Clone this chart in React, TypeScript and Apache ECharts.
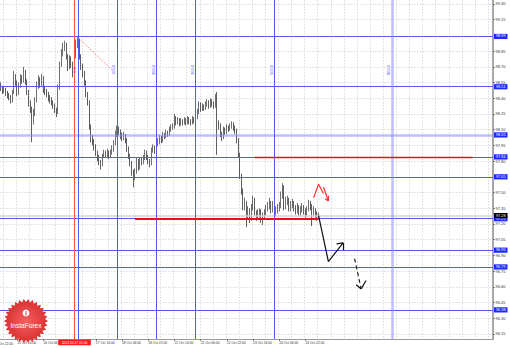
import React, { useEffect, useRef } from "react";
import * as echarts from "echarts";

const FONT = "Liberation Sans";

const firstOpen = 98.52;
const closes = [
  98.50, 98.47, 98.48, 98.45, 98.43, 98.41, 98.38, 98.45, 98.60, 98.55,
  98.45, 98.52, 98.60, 98.57, 98.66, 98.56, 98.46, 98.35, 98.30, 98.20,
  98.25, 98.38, 98.52, 98.58, 98.54, 98.59, 98.48, 98.46, 98.44, 98.40,
  98.38, 98.36, 98.33, 98.29, 98.26, 98.50, 98.72, 98.84, 98.89, 98.92,
  98.80, 98.70, 98.78, 98.73, 98.64, 98.80, 98.93, 98.96, 98.80, 98.70,
  98.64, 98.55, 98.44, 98.36, 98.12, 98.02, 97.99, 97.94, 97.88, 97.83,
  97.79, 97.76, 97.85, 97.88, 97.86, 97.89, 97.85, 97.88, 97.91, 97.97,
  98.06, 98.11, 98.08, 98.04, 98.02, 98.05, 98.00, 97.92, 97.85, 97.78,
  97.70, 97.64, 97.70, 97.80, 97.74, 97.80, 97.79, 97.83, 97.88, 97.84,
  97.80, 97.78, 97.90, 97.93, 97.90, 97.97, 97.99, 98.02, 98.00, 98.05,
  98.04, 98.07, 98.06, 98.10, 98.12, 98.13, 98.21, 98.17, 98.19, 98.16,
  98.18, 98.17, 98.19, 98.17, 98.20, 98.18, 98.17, 98.20, 98.19, 98.22,
  98.27, 98.34, 98.30, 98.32, 98.31, 98.34, 98.36, 98.33, 98.37, 98.35,
  98.33, 98.40, 98.16, 98.14, 98.06, 98.03, 98.10, 98.08, 98.12, 98.11,
  98.13, 98.15, 98.12, 98.09, 98.00, 97.86, 97.66, 97.52, 97.37, 97.40,
  97.28, 97.33, 97.25, 97.36, 97.44, 97.31, 97.27, 97.30, 97.32, 97.25,
  97.27, 97.31, 97.35, 97.37, 97.40, 97.34, 97.39, 97.31, 97.33, 97.35,
  97.37, 97.48, 97.55, 97.37, 97.42, 97.43, 97.35, 97.38, 97.40, 97.36,
  97.33, 97.36, 97.31, 97.34, 97.36, 97.33, 97.30, 97.34, 97.39, 97.37,
  97.32, 97.33, 97.30, 97.27, 97.28,
];
const highs = [
  98.55, 98.52, 98.51, 98.50, 98.47, 98.45, 98.43, 98.48, 98.66, 98.63,
  98.57, 98.55, 98.63, 98.62, 98.70, 98.67, 98.58, 98.48, 98.38, 98.32,
  98.30, 98.41, 98.56, 98.62, 98.60, 98.63, 98.61, 98.52, 98.49, 98.46,
  98.43, 98.41, 98.38, 98.35, 98.31, 98.53, 98.75, 98.87, 98.93, 98.95,
  98.93, 98.82, 98.81, 98.80, 98.75, 98.83, 98.96, 98.99, 98.97, 98.82,
  98.73, 98.66, 98.57, 98.46, 98.38, 98.15, 98.05, 98.01, 97.96, 97.90,
  97.86, 97.81, 97.87, 97.91, 97.90, 97.92, 97.90, 97.91, 97.95, 98.00,
  98.09, 98.14, 98.13, 98.10, 98.07, 98.08, 98.06, 98.02, 97.94, 97.87,
  97.80, 97.72, 97.73, 97.83, 97.82, 97.83, 97.83, 97.86, 97.91, 97.90,
  97.86, 97.82, 97.93, 97.96, 97.95, 98.00, 98.02, 98.05, 98.04, 98.08,
  98.07, 98.10, 98.09, 98.13, 98.15, 98.16, 98.25, 98.23, 98.22, 98.21,
  98.21, 98.20, 98.22, 98.21, 98.23, 98.22, 98.20, 98.23, 98.22, 98.25,
  98.30, 98.37, 98.36, 98.35, 98.34, 98.37, 98.39, 98.38, 98.40, 98.39,
  98.37, 98.44, 98.46, 98.19, 98.16, 98.08, 98.13, 98.12, 98.15, 98.14,
  98.16, 98.18, 98.17, 98.14, 98.11, 98.02, 97.88, 97.68, 97.54, 97.45,
  97.42, 97.37, 97.35, 97.39, 97.47, 97.45, 97.33, 97.34, 97.35, 97.34,
  97.31, 97.34, 97.38, 97.41, 97.45, 97.42, 97.42, 97.41, 97.37, 97.39,
  97.41, 97.51, 97.59, 97.57, 97.46, 97.47, 97.45, 97.42, 97.44, 97.42,
  97.38, 97.40, 97.38, 97.37, 97.40, 97.38, 97.35, 97.37, 97.43, 97.42,
  97.39, 97.37, 97.35, 97.32, 97.31,
];
const lows = [
  98.47, 98.44, 98.45, 98.42, 98.40, 98.38, 98.35, 98.36, 98.44, 98.52,
  98.42, 98.43, 98.50, 98.54, 98.55, 98.53, 98.43, 98.32, 98.26, 97.98,
  98.15, 98.23, 98.36, 98.49, 98.50, 98.52, 98.45, 98.43, 98.41, 98.37,
  98.35, 98.33, 98.30, 98.26, 98.22, 98.25, 98.48, 98.70, 98.80, 98.85,
  98.77, 98.66, 98.68, 98.69, 98.60, 98.62, 98.78, 98.88, 98.77, 98.67,
  98.60, 98.52, 98.41, 98.33, 98.10, 97.98, 97.95, 97.90, 97.85, 97.80,
  97.76, 97.72, 97.75, 97.83, 97.83, 97.84, 97.82, 97.83, 97.86, 97.89,
  97.95, 98.03, 98.05, 98.01, 97.99, 98.00, 97.97, 97.89, 97.82, 97.75,
  97.66, 97.55, 97.62, 97.68, 97.71, 97.72, 97.76, 97.77, 97.81, 97.81,
  97.77, 97.74, 97.76, 97.88, 97.87, 97.88, 97.94, 97.96, 97.97, 97.98,
  98.01, 98.02, 98.03, 98.04, 98.08, 98.10, 98.11, 98.14, 98.15, 98.13,
  98.14, 98.14, 98.15, 98.14, 98.15, 98.15, 98.14, 98.15, 98.16, 98.17,
  98.20, 98.25, 98.27, 98.28, 98.28, 98.29, 98.32, 98.30, 98.31, 98.32,
  98.30, 98.31, 97.86, 98.10, 98.03, 97.99, 98.01, 98.05, 98.06, 98.08,
  98.09, 98.11, 98.09, 98.06, 97.97, 97.83, 97.63, 97.48, 97.33, 97.33,
  97.17, 97.25, 97.21, 97.23, 97.33, 97.28, 97.23, 97.24, 97.26, 97.21,
  97.19, 97.24, 97.28, 97.32, 97.34, 97.30, 97.31, 97.27, 97.27, 97.30,
  97.32, 97.35, 97.44, 97.33, 97.34, 97.38, 97.32, 97.32, 97.35, 97.32,
  97.29, 97.30, 97.27, 97.28, 97.31, 97.29, 97.26, 97.27, 97.32, 97.33,
  97.18, 97.28, 97.26, 97.23, 97.24,
];

const slotCount = 301;
const yMin = 96.102;
const yMax = 99.338;
// 99.00 and 97.65 sit under the level boxes in the reference and are not visible
const yTicks = [
  96.15, 96.3, 96.45, 96.6, 96.75, 96.9, 97.05, 97.2, 97.35, 97.5,
  97.8, 97.95, 98.1, 98.25, 98.4, 98.55, 98.7, 98.85, 99.15, 99.3,
];
const timeTickIndex = [10, 26, 58, 74, 90, 106, 122, 138, 154, 170, 186];
const timeTickLabels = [
  "15 Oct 14:00", "16 Oct 06:00", "17 Oct 14:00", "18 Oct 06:00",
  "18 Oct 22:00", "21 Oct 14:00", "22 Oct 06:00", "22 Oct 22:00",
  "23 Oct 14:00", "24 Oct 06:00", "24 Oct 22:00",
];
const clippedFirstLabel = "14 Oct 22:00";

const levelPrices = [98.99, 98.51, 97.84, 97.65, 97.25, 96.95, 96.79, 96.38];
const lightLevel = 98.05;
const bidPrice = 97.28;
const fiboIndex = [47, 71, 95, 119, 167, 239];
const fiboLabels = ["0.0", "100.0", "200.0", "300.0", "500.0", "800.0"];
const fiboLabelPrice = 98.67;
const redVLineIndex = 45;
const redVLineLabel = "2013.10.17 01:00";

const fiboTrend = [[47, 98.98], [68, 98.67]];
const redSupport = [[82, 97.25], [194, 97.25]];
const redResistance = [[155, 97.84], [288, 97.84]];
const blackPath = [[194, 97.28], [200, 96.84], [209, 97.02]];
const blackHead = [[[205, 97.01], [209, 97.02]], [[209, 97.02], [209, 96.95]]];
const dashedPath = [[216, 96.87], [220, 96.58]];
const dashedHead = [[[217, 96.62], [220, 96.58]], [[223, 96.66], [220, 96.58]]];
const redZigPath = [[191, 97.45], [194, 97.58], [197, 97.49]];
const redZigPath2 = [[197, 97.55], [200, 97.42]];
const redZigHead = [[[198, 97.44], [200, 97.42]], [[200, 97.47], [200, 97.42]]];

export default function App() {
  const ref = useRef<HTMLDivElement>(null);
  useEffect(() => {
    document.body.style.margin = "0";
    const chart = echarts.init(ref.current!, undefined, { renderer: "svg" });

    const ohlc = closes.map((c, i) => {
      const o = i === 0 ? firstOpen : closes[i - 1];
      return [o, c, Math.min(lows[i], o, c), Math.max(highs[i], o, c)];
    });
    const cats = Array.from({ length: slotCount }, (_, i) => String(i));
    const labelMap = new Map<number, string>();
    timeTickIndex.forEach((idx, k) => labelMap.set(idx, timeTickLabels[k]));

    const blue = "#5656ff";
    const boxBlue = "#1c28ff";
    const boxLabel = (txt: string, bg: string) => ({
      show: true,
      position: "end",
      formatter: txt,
      backgroundColor: bg,
      color: "#fff",
      fontSize: 3.8,
      fontFamily: FONT,
      padding: [0.8, 2, 0.4, 2],
      distance: 1,
    });
    const seg = (a: number[], b: number[], style: any) => [
      { coord: a, lineStyle: style },
      { coord: b },
    ];
    const path = (pts: number[][], style: any) =>
      pts.slice(1).map((p, k) => seg(pts[k], p, style));

    const blackStyle = { color: "#111", width: 1.2, type: "solid" };
    const dashStyle = { color: "#111", width: 1.1, type: [4, 3] };
    const redDraw = { color: "#ff3030", width: 1.2, type: "solid" };

    const markData: any[] = [
      ...levelPrices.map((p) => ({
        yAxis: p,
        lineStyle: { color: blue, width: 1, type: "solid" },
        label: boxLabel(p.toFixed(2), boxBlue),
      })),
      {
        yAxis: lightLevel,
        lineStyle: { color: "rgba(140,140,255,0.55)", width: 2.5, type: "solid" },
        label: boxLabel(lightLevel.toFixed(2), boxBlue),
      },
      {
        yAxis: bidPrice,
        lineStyle: { color: "#d4d4d4", width: 1.5, type: "solid" },
        label: boxLabel(bidPrice.toFixed(2), "#000"),
      },
      ...fiboIndex.map((idx, k) => ({
        xAxis: idx,
        lineStyle:
          k === fiboIndex.length - 1
            ? { color: "rgba(140,140,255,0.55)", width: 2.5, type: "solid" }
            : { color: blue, width: 1, type: "solid" },
        label: { show: false },
      })),
      {
        xAxis: redVLineIndex,
        lineStyle: { color: "#ff5050", width: 1, type: "solid" },
        label: {
          show: true,
          position: "start",
          formatter: redVLineLabel,
          backgroundColor: "#ff1a1a",
          color: "#fff",
          fontSize: 3.3,
          fontFamily: FONT,
          padding: [1.6, 3.5, 1.2, 3.5],
          distance: 0.5,
        },
      },
      seg(fiboTrend[0], fiboTrend[1], { color: "#ff7070", width: 0.9, type: [1.2, 1.2] }),
      seg(redSupport[0], redSupport[1], { color: "#e8101a", width: 2, type: "solid" }),
      seg(redResistance[0], redResistance[1], { color: "#e8101a", width: 1.4, type: "solid" }),
      ...path(blackPath, blackStyle),
      ...blackHead.map((s) => seg(s[0], s[1], blackStyle)),
      ...path(dashedPath, dashStyle),
      ...dashedHead.map((s) => seg(s[0], s[1], blackStyle)),
      ...path(redZigPath, redDraw),
      ...path(redZigPath2, redDraw),
      ...redZigHead.map((s) => seg(s[0], s[1], redDraw)),
    ];

    const starPts: number[][] = [];
    const spikes = 30;
    for (let k = 0; k < spikes * 2; k++) {
      const a = (k * Math.PI) / spikes;
      const r = k % 2 === 0 ? 22 : 19;
      starPts.push([26 + r * Math.cos(a), 321 + r * Math.sin(a)]);
    }

    const option: any = {
      animation: false,
      backgroundColor: "#ffffff",
      grid: { left: 0, right: 17, top: 0, bottom: 9, containLabel: false },
      xAxis: {
        type: "category",
        data: cats,
        boundaryGap: true,
        axisLine: { show: true, lineStyle: { color: "#9a9a9a", width: 1 } },
        axisTick: {
          show: true,
          alignWithLabel: true,
          length: 2,
          interval: (i: number) => labelMap.has(i),
          lineStyle: { color: "#444", width: 0.6 },
        },
        axisLabel: {
          show: true,
          interval: (i: number) => labelMap.has(i),
          formatter: (v: string) => labelMap.get(Number(v)) || "",
          align: "left",
          fontSize: 3.3,
          fontFamily: FONT,
          color: "#333",
          margin: 2.5,
        },
        splitLine: {
          show: true,
          interval: (i: number) => (i - 2) % 8 === 0,
          lineStyle: { color: "#cdcdcd", width: 0.7, type: [1.5, 1.5] },
        },
      },
      yAxis: {
        type: "value",
        position: "right",
        min: yMin,
        max: yMax,
        scale: true,
        axisLine: { show: true, lineStyle: { color: "#a8a8a8", width: 2 } },
        axisTick: {
          show: true,
          length: 2,
          customValues: yTicks,
          lineStyle: { color: "#444", width: 0.6 },
        },
        axisLabel: {
          show: true,
          customValues: yTicks,
          formatter: (v: number) => v.toFixed(2),
          fontSize: 4,
          fontFamily: FONT,
          color: "#333",
          margin: 2.5,
        },
        splitLine: {
          show: true,
          lineStyle: { color: "#cdcdcd", width: 0.7, type: [1.5, 1.5] },
        },
      },
      series: [
        {
          type: "candlestick",
          data: ohlc,
          barWidth: 1.0,
          itemStyle: {
            color: "#ffffff",
            color0: "#1a1a1a",
            borderColor: "#333333",
            borderColor0: "#1a1a1a",
            borderWidth: 0.7,
          },
          markLine: {
            silent: true,
            symbol: ["none", "none"],
            animation: false,
            label: { show: false },
            data: markData,
          },
          markPoint: {
            silent: true,
            symbol: "circle",
            symbolSize: 0.1,
            itemStyle: { color: "rgba(0,0,0,0)" },
            data: fiboIndex.map((idx, k) => ({
              coord: [idx - 2, fiboLabelPrice],
              name: fiboLabels[k],
              value: fiboLabels[k],
              label: {
                show: true,
                position: "inside",
                rotate: 90,
                formatter: fiboLabels[k],
                color: "#4a4aff",
                fontSize: 4,
                fontFamily: FONT,
              },
            })),
          },
        },
      ],
      graphic: [
        {
          type: "text",
          x: 13,
          y: 343.5,
          style: {
            text: clippedFirstLabel,
            fill: "#333",
            fontSize: 3.3,
            fontFamily: FONT,
            align: "right",
            verticalAlign: "middle",
          },
        },
        {
          type: "polygon",
          shape: { points: starPts },
          style: {
            fill: new echarts.graphic.RadialGradient(0.5, 0.5, 0.5, [
              { offset: 0, color: "#f46060" },
              { offset: 1, color: "#d83030" },
            ]),
          },
          z: 10,
        },
        {
          type: "circle",
          shape: { cx: 26, cy: 313, r: 3.4 },
          style: { fill: "#ffffff" },
          z: 11,
        },
        {
          type: "rect",
          shape: { x: 25.5, y: 311, width: 1, height: 4.5 },
          style: { fill: "#e04040" },
          z: 12,
        },
        {
          type: "text",
          x: 26,
          y: 325.5,
          style: {
            text: "InstaForex",
            fill: "#ffffff",
            fontSize: 6.6,
            fontFamily: FONT,
            align: "center",
            verticalAlign: "middle",
          },
          z: 12,
        },
      ],
    };
    chart.setOption(option);
    return () => chart.dispose();
  }, []);
  return <div ref={ref} style={{ width: 510, height: 348 }} />;
}
